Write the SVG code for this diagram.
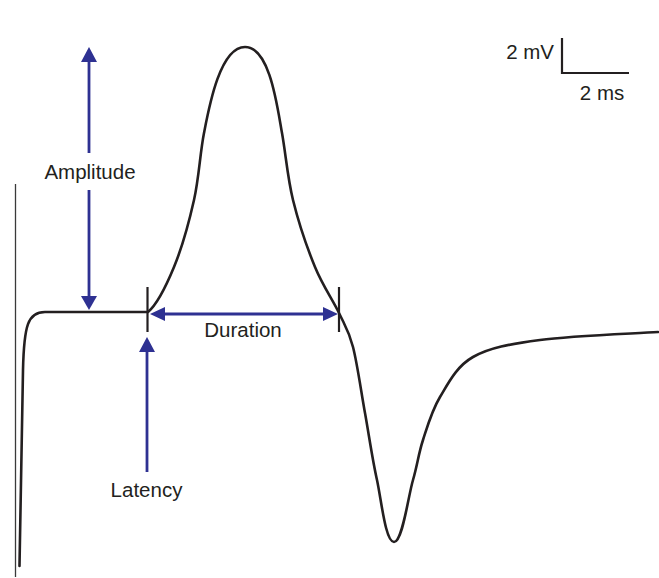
<svg xmlns="http://www.w3.org/2000/svg" width="659" height="578" viewBox="0 0 659 578">
<style>
.trace{fill:none;stroke:#231f20;stroke-width:2.6;stroke-linejoin:round;stroke-linecap:round}
.tick{stroke:#231f20;stroke-width:2.2;fill:none}
.axis{stroke:#3a3a3a;stroke-width:1.3;fill:none}
.scale{stroke:#231f20;stroke-width:2.2;fill:none}
.arr{stroke:#2e3192;stroke-width:2.8;fill:none}
.head{fill:#2e3192}
.lbl{font-family:"Liberation Sans",Arial,sans-serif;font-size:20.5px;fill:#231f20}
</style>
<rect width="659" height="578" fill="#ffffff"/>
<g id="axis">
<line class="axis" x1="15.5" y1="184" x2="15.5" y2="577"/>
</g>
<g id="trace">
<path class="trace" d="M19.5,566 L23,370 C24,325 28,312 45,312 L148,312 C157,304.5 166.3,285.7 174,267 C181.7,248.3 189,222.3 194,200 C199,177.7 200,153.5 204,133 C209,107 220,47 245,47 C270,47 277.3,107 282,133 C285.7,153.5 287.5,177.7 293,200 C298.5,222.3 307.3,248.2 315,267 C322.7,285.8 332.7,299.7 339,313 C345.3,326.3 348.7,330.3 353,347 C357.3,363.7 361,390.8 365,413 C369,435.2 372.2,458.5 377,480 C381.5,501 385.5,542 394,542 C402.5,542 408,497 413,480 C417.8,463 418.5,453.8 423,440 C427.5,426.2 431.7,410.8 440,397 C448.3,383.2 456.3,366.5 473,357 C489.7,347.5 509.2,344.2 540,340 C570.8,335.8 631.3,333.7 658,332"/>
</g>
<g id="ticks">
<line class="tick" x1="147.5" y1="287" x2="147.5" y2="332"/>
<line class="tick" x1="339" y1="287" x2="339" y2="332"/>
</g>
<g id="scalebar">
<polyline class="scale" points="562,38 562,73 629,73"/>
<text class="lbl" x="554" y="59" text-anchor="end">2 mV</text>
<text class="lbl" x="602" y="100" text-anchor="middle">2 ms</text>
</g>
<g id="connectors">
<g id="amplitude-arrow">
<line class="arr" x1="89" y1="60" x2="89" y2="153"/>
<line class="arr" x1="89" y1="190" x2="89" y2="298"/>
<polygon class="head" points="89,47 81,62 97,62"/>
<polygon class="head" points="89,310 81,296 97,296"/>
</g>
<g id="duration-arrow">
<line class="arr" x1="163" y1="314" x2="325" y2="314"/>
<polygon class="head" points="150,314 165,307 165,321"/>
<polygon class="head" points="338,314 323,307 323,321"/>
</g>
<g id="latency-arrow">
<line class="arr" x1="147" y1="350" x2="147" y2="472"/>
<polygon class="head" points="147,337 139,352 155,352"/>
</g>
</g>
<g id="amplitude-label"><text class="lbl" x="90" y="179" text-anchor="middle">Amplitude</text></g>
<g id="duration-label"><text class="lbl" x="243" y="337" text-anchor="middle">Duration</text></g>
<g id="latency-label"><text class="lbl" x="146.5" y="497" text-anchor="middle">Latency</text></g>
</svg>
